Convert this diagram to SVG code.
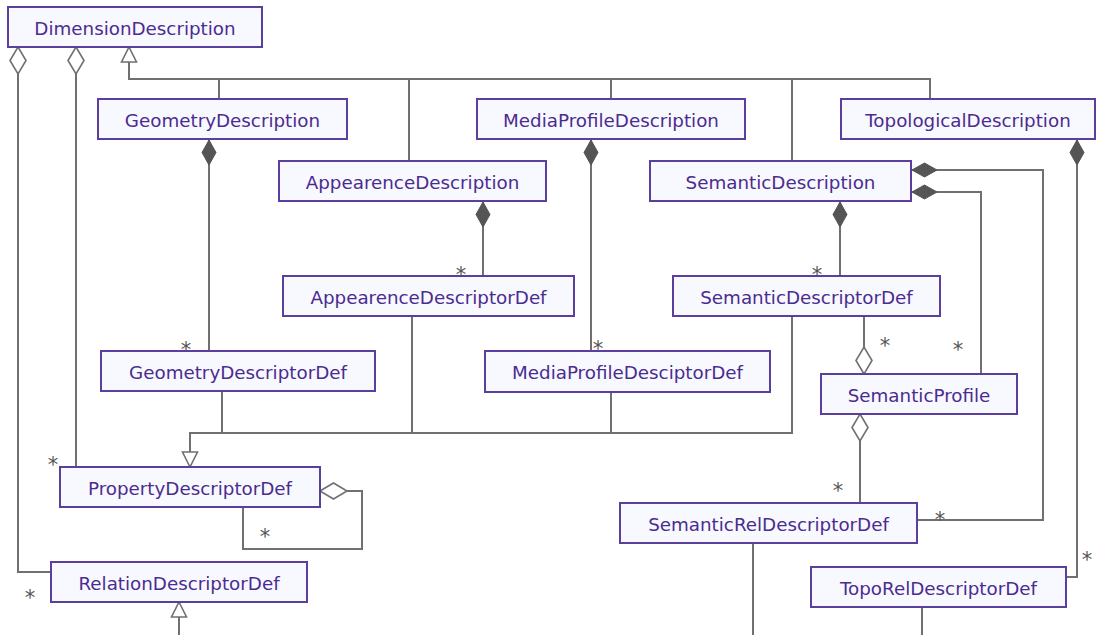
<svg xmlns="http://www.w3.org/2000/svg" width="1098" height="635" viewBox="0 0 1098 635">
<style>
.box{fill:#f8f8ff;stroke:#5b3f9e;stroke-width:2}
.lbl{font-family:"DejaVu Sans",Verdana,sans-serif;font-size:18.3px;fill:#4a2c8f;text-anchor:middle}
.ln{fill:none;stroke:#707070;stroke-width:2}
.m{font-family:"DejaVu Sans",sans-serif;font-size:21px;fill:#555;text-anchor:middle}
</style>
<defs>
<marker id="tri" markerUnits="userSpaceOnUse" markerWidth="20" markerHeight="20" refX="0" refY="10" orient="auto" viewBox="0 0 20 20" overflow="visible">
<path d="M0,10 L15,2.5 L15,17.5 Z" fill="#fff" stroke="#707070" stroke-width="1.6"/>
</marker>
<marker id="hd" markerUnits="userSpaceOnUse" markerWidth="30" markerHeight="20" refX="0" refY="10" orient="auto" viewBox="0 0 30 20" overflow="visible">
<path d="M0,10 L13.5,2 L27,10 L13.5,18 Z" fill="#fff" stroke="#707070" stroke-width="1.6"/>
</marker>
<marker id="fd" markerUnits="userSpaceOnUse" markerWidth="30" markerHeight="20" refX="0" refY="10" orient="auto" viewBox="0 0 30 20" overflow="visible">
<path d="M0,10 L12.5,3 L25,10 L12.5,17 Z" fill="#555" stroke="#555" stroke-width="1"/>
</marker>
</defs>
<g id="connectors">
<path class="ln" marker-start="url(#tri)" d="M129,47 V79 H930 V99"/>
<path class="ln" d="M219,79 V99 M409,79 V161 M611,79 V99 M792,79 V161"/>
<path class="ln" marker-start="url(#hd)" d="M18,47 V572 H51"/>
<path class="ln" marker-start="url(#hd)" d="M76,47 V467"/>
<path class="ln" marker-start="url(#fd)" d="M209,140 V351"/>
<path class="ln" marker-start="url(#fd)" d="M483,202 V276"/>
<path class="ln" marker-start="url(#fd)" d="M591,140 V351"/>
<path class="ln" marker-start="url(#fd)" d="M840,202 V276"/>
<path class="ln" marker-start="url(#fd)" d="M912,170 H1043 V520 H917"/>
<path class="ln" marker-start="url(#fd)" d="M912,192 H981 V374"/>
<path class="ln" marker-start="url(#fd)" d="M1077,140 V577 H1066"/>
<path class="ln" marker-start="url(#hd)" d="M864,374 V316"/>
<path class="ln" marker-start="url(#hd)" d="M860,414 V503"/>
<path class="ln" marker-start="url(#tri)" d="M190,467 V433 H792 V316"/>
<path class="ln" d="M222,391 V433 M412,316 V433 M611,392 V433"/>
<path class="ln" marker-start="url(#hd)" d="M320,491 H362 V549 H243 V507"/>
<path class="ln" marker-start="url(#tri)" d="M179,602 V640"/>
<path class="ln" d="M753,543 V640 M922,607 V640"/>
<text class="m" x="30" y="605">*</text>
<text class="m" x="53" y="472">*</text>
<text class="m" x="186" y="357">*</text>
<text class="m" x="461" y="282">*</text>
<text class="m" x="598" y="356">*</text>
<text class="m" x="817" y="282">*</text>
<text class="m" x="940" y="527">*</text>
<text class="m" x="958" y="357">*</text>
<text class="m" x="1087" y="567">*</text>
<text class="m" x="885" y="353">*</text>
<text class="m" x="838" y="498">*</text>
<text class="m" x="265" y="544">*</text>
</g>
<g id="DimensionDescription"><rect class="box" x="8" y="7" width="254" height="40"/><text class="lbl" x="135" y="35">DimensionDescription</text></g>
<g id="GeometryDescription"><rect class="box" x="98" y="99" width="249" height="40"/><text class="lbl" x="222.5" y="127">GeometryDescription</text></g>
<g id="AppearenceDescription"><rect class="box" x="279" y="161" width="267" height="40"/><text class="lbl" x="412.5" y="189">AppearenceDescription</text></g>
<g id="MediaProfileDescription"><rect class="box" x="477" y="99" width="268" height="40"/><text class="lbl" x="611" y="127">MediaProfileDescription</text></g>
<g id="SemanticDescription"><rect class="box" x="650" y="161" width="261" height="40"/><text class="lbl" x="780.5" y="189">SemanticDescription</text></g>
<g id="TopologicalDescription"><rect class="box" x="841" y="99" width="254" height="40"/><text class="lbl" x="968" y="127">TopologicalDescription</text></g>
<g id="AppearenceDescriptorDef"><rect class="box" x="283" y="276" width="291" height="40"/><text class="lbl" x="428.5" y="304">AppearenceDescriptorDef</text></g>
<g id="SemanticDescriptorDef"><rect class="box" x="673" y="276" width="267" height="40"/><text class="lbl" x="806.5" y="304">SemanticDescriptorDef</text></g>
<g id="GeometryDescriptorDef"><rect class="box" x="101" y="351" width="274" height="40"/><text class="lbl" x="238" y="379">GeometryDescriptorDef</text></g>
<g id="MediaProfileDesciptorDef"><rect class="box" x="485" y="351" width="285" height="41"/><text class="lbl" x="627.5" y="379">MediaProfileDesciptorDef</text></g>
<g id="SemanticProfile"><rect class="box" x="821" y="374" width="196" height="40"/><text class="lbl" x="919" y="402">SemanticProfile</text></g>
<g id="PropertyDescriptorDef"><rect class="box" x="60" y="467" width="260" height="40"/><text class="lbl" x="190" y="495">PropertyDescriptorDef</text></g>
<g id="RelationDescriptorDef"><rect class="box" x="51" y="562" width="256" height="40"/><text class="lbl" x="179" y="590">RelationDescriptorDef</text></g>
<g id="SemanticRelDescriptorDef"><rect class="box" x="620" y="503" width="297" height="40"/><text class="lbl" x="768.5" y="531">SemanticRelDescriptorDef</text></g>
<g id="TopoRelDescriptorDef"><rect class="box" x="811" y="567" width="255" height="40"/><text class="lbl" x="938.5" y="595">TopoRelDescriptorDef</text></g>
</svg>
